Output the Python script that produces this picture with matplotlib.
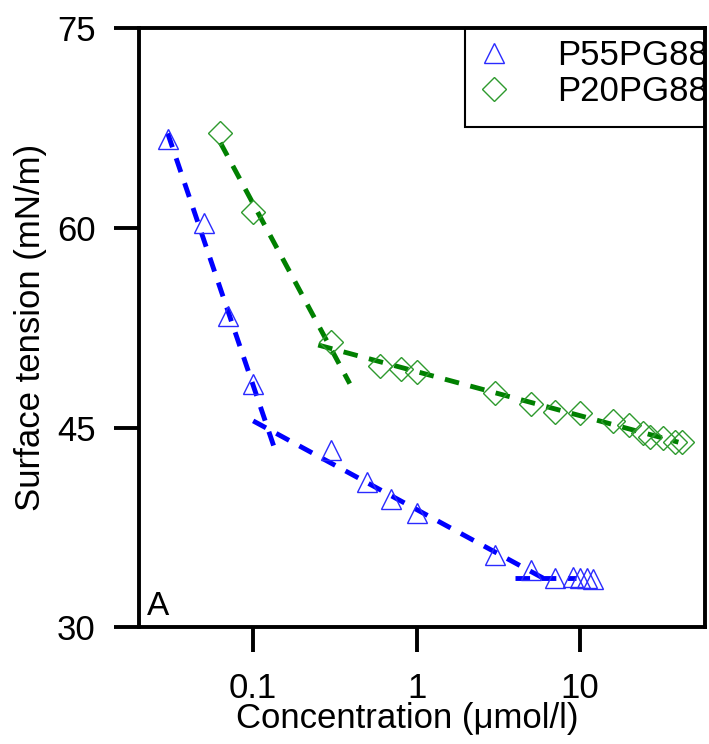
import numpy as np
import matplotlib.pyplot as plt
from matplotlib.patches import Rectangle

# P55PG88 (triangles)
conc_p55 = [0.03, 0.05, 0.07, 0.1, 0.3, 0.5, 0.7, 1.0, 3.0, 5.0, 7.0, 9.0, 10.0, 11.0, 12.0]
st_p55 = [66.7, 60.4, 53.4, 48.3, 43.3, 40.9, 39.6, 38.6, 35.4, 34.3, 33.7, 33.8, 33.7, 33.7, 33.6]

# P20PG88 (diamonds)
conc_p20 = [0.063, 0.1, 0.3, 0.6, 0.8, 1.0, 3.0, 5.0, 7.0, 10.0, 16.0, 20.0, 24.4, 27.0, 32.0, 38.0, 42.0]
st_p20 = [67.1, 61.2, 51.4, 49.6, 49.4, 49.2, 47.6, 46.8, 46.2, 46.1, 45.5, 45.2, 44.6, 44.3, 44.2, 43.9, 43.9]

# linear fits (in log concentration), given by end points
fit_p55_x = [[0.03, 0.138], [0.1, 6.8], [4.0, 9.5]]
fit_p55_y = [[67.1, 43.1], [45.5, 33.3], [33.7, 33.7]]
fit_p20_x = [[0.063, 0.39], [0.25, 40.0]]
fit_p20_y = [[66.4, 48.3], [51.2, 43.9]]


def main():
    plt.rcParams['font.family'] = ['Liberation Sans', 'DejaVu Sans']
    fig = plt.figure(figsize=(7.09, 7.44), dpi=100)
    ax = fig.add_axes([0.196, 0.157, 0.798, 0.805])

    for xs, ys in zip(fit_p55_x, fit_p55_y):
        ax.plot(xs, ys, color='#0000ff', lw=3.5, ls=(0, (3, 2.4)), zorder=2)
    for xs, ys in zip(fit_p20_x, fit_p20_y):
        ax.plot(xs, ys, color='#008000', lw=3.5, ls=(0, (3, 2.4)), zorder=2)

    ax.plot(conc_p55, st_p55, ls='none', marker='^', ms=15, mfc='none',
            mec='#2a2aff', mew=1.0, label='P55PG88', zorder=3)
    ax.plot(conc_p20, st_p20, ls='none', marker='D', ms=12.5, mfc='none',
            mec='#2e9a2e', mew=1.0, label='P20PG88', zorder=3)

    ax.set_xscale('log')
    ax.set_xlim(0.02, 58)
    ax.set_ylim(30, 75)
    ax.set_xticks([0.1, 1, 10])
    ax.set_xticklabels(['0.1', '1', '10'])
    ax.xaxis.set_minor_locator(plt.NullLocator())
    ax.set_yticks([30, 45, 60, 75])

    for s in ax.spines.values():
        s.set_linewidth(2.8)
    ax.tick_params(direction='out', length=18, width=2.8, labelsize=25)
    ax.tick_params(axis='x', pad=14)
    ax.tick_params(axis='y', pad=13)

    ax.set_xlabel('Concentration (\u03bcmol/l)', fontsize=25, labelpad=3)
    ax.xaxis.set_label_coords(0.475, -0.125)
    ax.set_ylabel('Surface tension (mN/m)', fontsize=25, labelpad=7)
    ax.text(0.014, 0.008, 'A', transform=ax.transAxes, fontsize=24,
            ha='left', va='bottom')

    # legend frame drawn separately (box is taller than its two entries)
    ax.add_patch(Rectangle((0.576, 0.835), 0.424, 0.165, transform=ax.transAxes,
                           fill=False, ec='black', lw=1.5, zorder=4, clip_on=False))
    ax.legend(loc='upper left', bbox_to_anchor=(0.578, 1.0), fontsize=25,
              frameon=False, borderaxespad=0, handlelength=1.0,
              handletextpad=1.3, borderpad=0.32, labelspacing=0.08)

    fig.savefig('out.png', dpi=100)


if __name__ == "__main__":
    main()
